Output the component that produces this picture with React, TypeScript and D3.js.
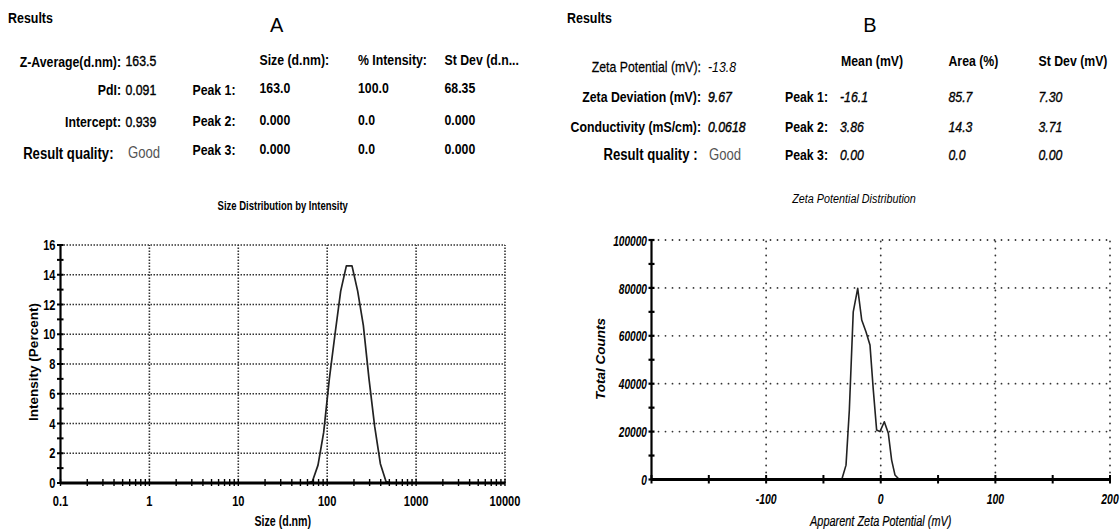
import React from 'react';
import * as d3 from 'd3';

// Panel A: size distribution by intensity
const SIZE_NM = [58.77, 68.06, 78.82, 91.28, 105.7, 122.4, 141.8, 164.2, 190.1, 220.2, 255.0, 295.3, 342.0, 396.1, 458.7, 531.2];
const INTENSITY = [0, 0.1, 1.2, 3.4, 7.0, 10.0, 12.9, 14.6, 14.6, 12.9, 10.6, 7.0, 3.8, 1.3, 0.1, 0];
const A_X_LABELS = [0.1, 1, 10, 100, 1000, 10000];
const A_Y_LABELS = [0, 2, 4, 6, 8, 10, 12, 14, 16];

// Panel B: zeta potential distribution
const ZETA_MV = [-36, -34, -30.3, -27.4, -24, -20.1, -16.6, -12.9, -9.4, -6.5, -3.6, -0.7, 3.1, 6.6, 9.5, 12.4, 16.2, 18];
const COUNTS = [0, 0, 6000, 29000, 70000, 79800, 66600, 61700, 56200, 37400, 20700, 20000, 24100, 19300, 8100, 1900, 0, 0];
const B_X_LABELS = [-100, 0, 100, 200];
const B_Y_LABELS = [0, 20000, 40000, 60000, 80000, 100000];

// Results tables
const A_LEFT_LABELS = ['Z-Average(d.nm):', 'PdI:', 'Intercept:', 'Result quality:'];
const A_LEFT_VALUES = ['163.5', '0.091', '0.939', 'Good'];
const A_COLUMNS = ['Size (d.nm):', '% Intensity:', 'St Dev (d.n...'];
const A_PEAKS = ['Peak 1:', 'Peak 2:', 'Peak 3:'];
const A_PEAK_SIZE = ['163.0', '0.000', '0.000'];
const A_PEAK_INT = ['100.0', '0.0', '0.0'];
const A_PEAK_SD = ['68.35', '0.000', '0.000'];

const B_LEFT_LABELS = ['Zeta Potential (mV):', 'Zeta Deviation (mV):', 'Conductivity (mS/cm):', 'Result quality :'];
const B_LEFT_VALUES = ['-13.8', '9.67', '0.0618', 'Good'];
const B_COLUMNS = ['Mean (mV)', 'Area (%)', 'St Dev (mV)'];
const B_PEAKS = ['Peak 1:', 'Peak 2:', 'Peak 3:'];
const B_PEAK_MEAN = ['-16.1', '3.86', '0.00'];
const B_PEAK_AREA = ['85.7', '14.3', '0.0'];
const B_PEAK_SD = ['7.30', '3.71', '0.00'];

const FONT = "'Liberation Sans', Arial, sans-serif";

type TProps = {
  x: number; y: number; size?: number; sx?: number; anchor?: string;
  bold?: boolean; italic?: boolean; fill?: string; rotate?: number; stroke?: number;
  children: React.ReactNode;
};

// text with horizontal squeeze to mimic a narrow face
function T({ x, y, size = 15, sx = 0.82, anchor = 'start', bold = false, italic = false, fill = '#000', rotate = 0, stroke = 0, children }: TProps) {
  return (
    <text
      transform={`translate(${x},${y}) rotate(${rotate}) scale(${sx},1)`}
      textAnchor={anchor as any}
      dominantBaseline="central"
      fontFamily={FONT}
      fontSize={size}
      fontWeight={bold ? 'bold' : 'normal'}
      fontStyle={italic ? 'italic' : 'normal'}
      fill={fill}
      stroke={stroke ? fill : 'none'}
      strokeWidth={stroke}
    >
      {children}
    </text>
  );
}

function PanelA() {
  const x = d3.scaleLog().domain([0.1, 10000]).range([60.5, 505]);
  const y = d3.scaleLinear().domain([0, 16]).range([483, 245]);
  const line = d3.line<number>().x((_, i) => x(SIZE_NM[i])).y(d => y(d));
  const minor = x.ticks();
  const grid = '#333';
  return (
    <g>
      <T x={8} y={18} bold sx={0.83}>Results</T>
      <T x={270} y={25} size={20} sx={1}>A</T>
      {A_LEFT_LABELS.map((l, i) => (
        <T key={l} x={i === 3 ? 113.5 : 121} y={[62, 90.5, 122.5, 154][i]} anchor="end" bold size={i === 3 ? 16 : 15}>{l}</T>
      ))}
      {A_LEFT_VALUES.map((v, i) => (
        <T key={i} x={i === 3 ? 128 : 125.5} y={[61.5, 90.5, 122.5, 153][i]} size={i === 3 ? 16 : 15}
          fill={i === 3 ? '#555' : '#000'} stroke={i === 3 ? 0 : 0.4}>{v}</T>
      ))}
      {A_COLUMNS.map((c, i) => (
        <T key={c} x={[259.5, 358, 444.5][i]} y={60} bold>{c}</T>
      ))}
      {A_PEAKS.map((p, i) => (
        <g key={p}>
          <T x={235.5} y={[90, 121.5, 150.5][i]} anchor="end" bold>{p}</T>
          <T x={259.5} y={[88, 120, 149.5][i]} bold>{A_PEAK_SIZE[i]}</T>
          <T x={358} y={[88, 120, 149.5][i]} bold>{A_PEAK_INT[i]}</T>
          <T x={444.5} y={[88, 120, 149.5][i]} bold>{A_PEAK_SD[i]}</T>
        </g>
      ))}

      <T x={282.75} y={205} size={12.5} sx={0.76} anchor="middle" bold>Size Distribution by Intensity</T>

      {/* dotted grid */}
      {A_Y_LABELS.slice(1).map(v => (
        <line key={v} x1={x(0.1)} x2={x(10000)} y1={y(v)} y2={y(v)} stroke={grid} strokeWidth={1.6} strokeDasharray="1.5,1.5" />
      ))}
      {A_X_LABELS.slice(1).map(v => (
        <line key={v} x1={x(v)} x2={x(v)} y1={y(0)} y2={y(16)} stroke={grid} strokeWidth={1.6} strokeDasharray="1.5,1.5" />
      ))}

      <path d={line(INTENSITY) ?? ''} fill="none" stroke="#222" strokeWidth={1.7} strokeLinejoin="round" />

      {/* axes */}
      <line x1={x(0.1)} x2={x(0.1)} y1={y(0)} y2={y(16)} stroke="#000" strokeWidth={2.2} />
      <line x1={x(0.1)} x2={x(10000)} y1={y(0)} y2={y(0)} stroke="#000" strokeWidth={3.2} />
      {d3.range(0, 17).map(v => (
        <line key={v} x1={x(0.1) - 3.5} x2={x(0.1) + 3} y1={y(v)} y2={y(v)} stroke="#000" strokeWidth={2} />
      ))}
      {minor.map(v => (
        <line key={v} x1={x(v)} x2={x(v)} y1={y(0) - 4} y2={y(0) + 3} stroke="#000" strokeWidth={1.4} />
      ))}
      {A_Y_LABELS.map(v => (
        <T key={v} x={55.5} y={y(v)} anchor="end" bold size={15} sx={0.74}>{v}</T>
      ))}
      {A_X_LABELS.map(v => (
        <T key={v} x={x(v)} y={500.5} anchor="middle" bold size={15} sx={0.74}>{v}</T>
      ))}
      <T x={282.75} y={521.5} anchor="middle" bold size={14} sx={0.76}>Size (d.nm)</T>
      <T x={33} y={362} anchor="middle" bold size={13.5} sx={1} rotate={-90}>Intensity (Percent)</T>
    </g>
  );
}

function PanelB() {
  const x = d3.scaleLinear().domain([-200, 200]).range([651.5, 1110]);
  const y = d3.scaleLinear().domain([0, 100000]).range([479.5, 240]);
  const line = d3.line<number>().x((_, i) => x(ZETA_MV[i])).y(d => y(d));
  const grid = '#333';
  return (
    <g>
      <T x={567} y={18} bold sx={0.83}>Results</T>
      <T x={870} y={25} size={20} sx={1} anchor="middle">B</T>
      {B_LEFT_LABELS.map((l, i) => (
        <T key={l} x={i === 3 ? 697.5 : 701} y={[67, 97, 127, 155][i]} anchor="end" bold={i > 0} size={i === 3 ? 16 : 15}
          stroke={i === 0 ? 0.25 : 0}>{l}</T>
      ))}
      {B_LEFT_VALUES.map((v, i) => (
        <T key={i} x={i === 3 ? 709 : 708} y={[67, 97, 127, 155][i]} size={i === 3 ? 16 : 15}
          italic={i !== 3} fill={i === 3 ? '#555' : '#000'} stroke={i === 1 || i === 2 ? 0.45 : 0}>{v}</T>
      ))}
      {B_COLUMNS.map((c, i) => (
        <T key={c} x={[841, 948.5, 1038.5][i]} y={61.5} bold>{c}</T>
      ))}
      {B_PEAKS.map((p, i) => (
        <g key={p}>
          <T x={828} y={[97, 127, 155][i]} anchor="end" bold>{p}</T>
          <T x={840} y={[97, 127, 155][i]} italic stroke={0.35}>{B_PEAK_MEAN[i]}</T>
          <T x={948.5} y={[97, 127, 155][i]} italic stroke={0.35}>{B_PEAK_AREA[i]}</T>
          <T x={1038.5} y={[97, 127, 155][i]} italic stroke={0.35}>{B_PEAK_SD[i]}</T>
        </g>
      ))}

      <T x={854} y={198.5} size={13.5} sx={0.8} anchor="middle" italic>Zeta Potential Distribution</T>

      {B_Y_LABELS.slice(1).map(v => (
        <line key={v} x1={x(-200)} x2={x(200)} y1={y(v)} y2={y(v)} stroke={grid} strokeWidth={1.8} strokeDasharray="0,7" strokeLinecap="round" />
      ))}
      {B_X_LABELS.map(v => (
        <line key={v} x1={x(v)} x2={x(v)} y1={y(0)} y2={y(100000)} stroke={grid} strokeWidth={1.8} strokeDasharray="0,7" strokeLinecap="round" />
      ))}

      <path d={line(COUNTS) ?? ''} fill="none" stroke="#222" strokeWidth={1.6} strokeLinejoin="round" />

      <line x1={x(-200)} x2={x(-200)} y1={y(0)} y2={y(100000)} stroke="#000" strokeWidth={2.2} />
      <line x1={x(-200)} x2={x(200)} y1={y(0)} y2={y(0)} stroke="#000" strokeWidth={3.2} />
      {d3.range(0, 100001, 10000).map(v => (
        <line key={v} x1={x(-200) - 3} x2={x(-200) + 3} y1={y(v)} y2={y(v)} stroke="#000" strokeWidth={2.2} />
      ))}
      {d3.range(-200, 201, 50).map(v => (
        <line key={v} x1={x(v)} x2={x(v)} y1={y(0) - 4.5} y2={y(0) + 4} stroke="#000" strokeWidth={2} />
      ))}
      {B_Y_LABELS.map(v => (
        <T key={v} x={647} y={y(v) + 1} anchor="end" bold italic size={14.5} sx={0.7}>{v}</T>
      ))}
      {B_X_LABELS.map(v => (
        <T key={v} x={x(v)} y={499.5} anchor="middle" bold italic size={14.5} sx={0.72}>{v}</T>
      ))}
      <T x={880.75} y={521.5} anchor="middle" italic size={14} sx={0.78} stroke={0.2}>Apparent Zeta Potential (mV)</T>
      <T x={600} y={359} anchor="middle" bold italic size={13.5} sx={1} rotate={-90}>Total Counts</T>
    </g>
  );
}

export default function App() {
  return (
    <>
      <style>{'body{margin:0;background:#fff}'}</style>
      <svg width={1120} height={531} style={{ display: 'block', background: '#fff' }}>
        <PanelA />
        <PanelB />
      </svg>
    </>
  );
}
